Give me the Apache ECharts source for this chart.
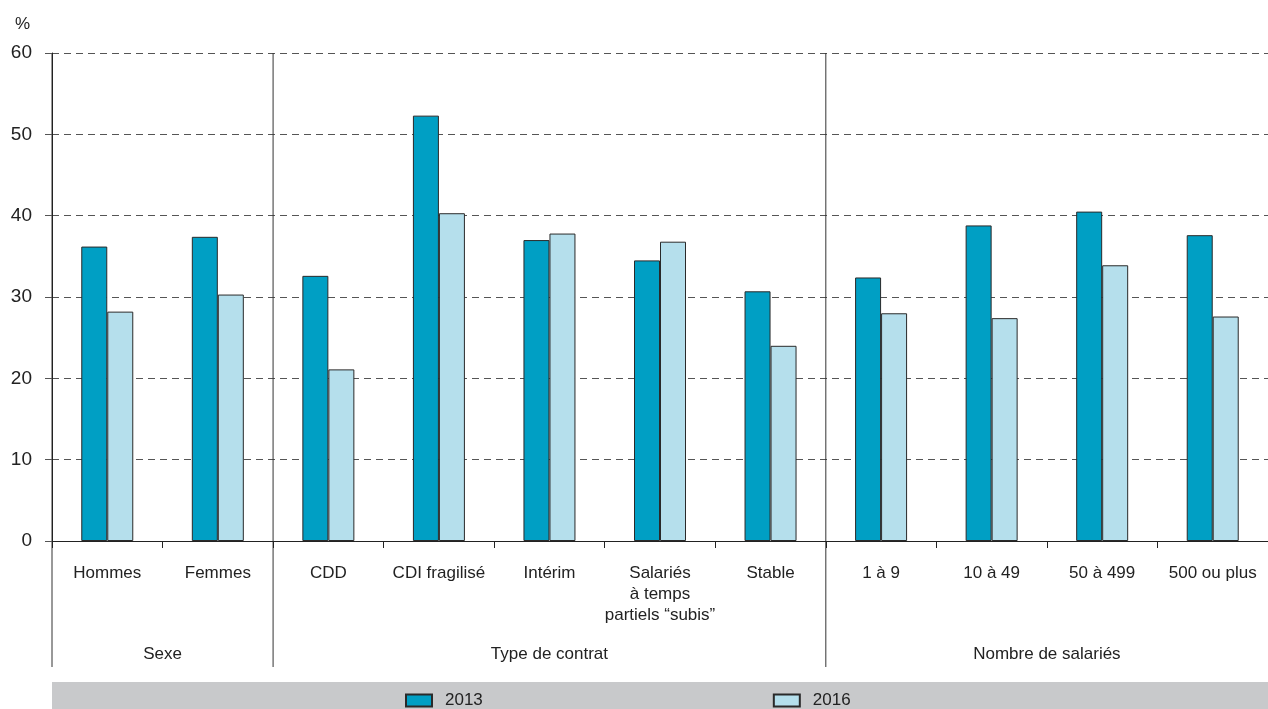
<!DOCTYPE html>
<html><head><meta charset="utf-8">
<script src="https://cdn.jsdelivr.net/npm/echarts@6/dist/echarts.min.js"></script>
<style>html,body{margin:0;padding:0;background:#fff}#c{width:1268px;height:709px}</style>
</head><body><div id="c"></div>
<script>
const categories = ['Hommes','Femmes','CDD','CDI fragilisé','Intérim','Salariés\nà temps\npartiels “subis”','Stable','1 à 9','10 à 49','50 à 499','500 ou plus'];
const groups = ['Sexe','Type de contrat','Nombre de salariés'];
const groupSizes = [2,5,4];
const values2013 = [36.2,37.4,32.6,52.3,37.0,34.5,30.7,32.4,38.8,40.5,37.6];
const values2016 = [28.2,30.3,21.1,40.3,37.8,36.8,24.0,28.0,27.4,33.9,27.6];
const seriesNames = ['2013','2016'];
const yTicks = [0,10,20,30,40,50,60];

const FONT = '"Liberation Sans Narrow","Liberation Sans",Arial,sans-serif';
const chart = echarts.init(document.getElementById('c'));
const option = {
  animation:false,
  textStyle:{fontFamily:FONT},
  grid:{left:52,right:0,top:53,bottom:168},
  legend:{
    left:400, top:687, itemWidth:26, itemHeight:12, itemGap:290, icon:'rect',
    textStyle:{fontSize:17,color:'#222',fontFamily:FONT,padding:[0,0,0,8]},
    data:seriesNames
  },
  xAxis:{
    type:'category', data:categories,
    axisLine:{lineStyle:{color:'#222',width:1}},
    axisTick:{show:true,length:7,lineStyle:{color:'#222',width:1}},
    axisLabel:{fontSize:17,color:'#222',margin:22,lineHeight:21,interval:0,fontFamily:FONT}
  },
  yAxis:{
    type:'value', min:yTicks[0], max:yTicks[yTicks.length-1], interval:10,
    name:'%', nameLocation:'end', nameGap:20,
    nameTextStyle:{fontSize:17,color:'#222',align:'right',padding:[0,22,0,0],fontFamily:FONT},
    axisLine:{show:true,lineStyle:{color:'#222'}},
    axisTick:{show:true,length:7,lineStyle:{color:'#555'}},
    axisLabel:{fontSize:19,color:'#222',margin:20,fontFamily:FONT},
    splitLine:{lineStyle:{type:[7,5],color:'#555',width:1}}
  },
  series:[
    {name:seriesNames[0],type:'bar',data:values2013,barWidth:26,barGap:'0%',
     itemStyle:{color:'#009fc4',borderColor:'#2a2a2a',borderWidth:1}},
    {name:seriesNames[1],type:'bar',data:values2016,barWidth:26,barGap:'0%',
     itemStyle:{color:'#b5dfec',borderColor:'#2a2a2a',borderWidth:1}}
  ]
};
chart.setOption(option);

const c0 = chart.convertToPixel({xAxisIndex:0},0);
const c1 = chart.convertToPixel({xAxisIndex:0},1);
const band = c1 - c0;
const left0 = c0 - band/2;
const yTop = chart.convertToPixel({yAxisIndex:0}, yTicks[yTicks.length-1]);
const yBottom = chart.convertToPixel({yAxisIndex:0}, 0);
const lineBottom = yBottom + 126;
const graphics = [];
graphics.push({type:'rect',z:-1,shape:{x:left0,y:682,width:1268-left0,height:27},style:{fill:'#c8c9cb'}});
let start = 0;
groupSizes.forEach((n,i)=>{
  const bx = left0 + start*band;
  graphics.push({type:'line',shape:{x1:bx,y1:yTop,x2:bx,y2:lineBottom},style:{stroke:'#333',lineWidth:1}});
  const cx = left0 + (start + n/2)*band;
  graphics.push({type:'text',x:cx,y:yBottom+113,style:{text:groups[i],fontSize:17,fill:'#222',fontFamily:FONT,align:'center',verticalAlign:'middle'}});
  start += n;
});
chart.setOption({graphic:graphics});
</script></body></html>
